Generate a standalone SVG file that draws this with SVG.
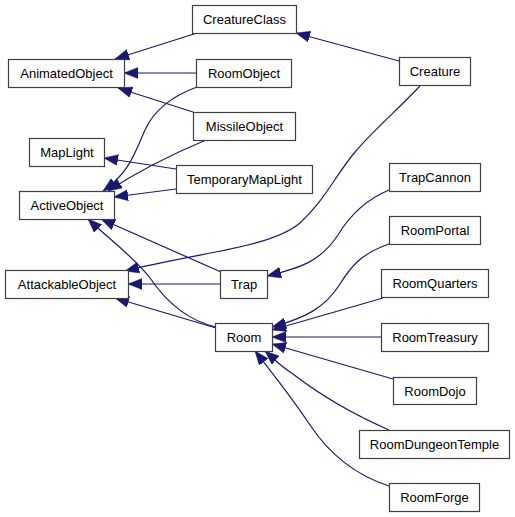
<svg xmlns="http://www.w3.org/2000/svg" width="515" height="517" viewBox="0 0 515 517">
<defs>
<style>
.n rect{fill:#fff;stroke:#404040;stroke-width:1.2}
.n text{font-family:"Liberation Sans",Arial,sans-serif;font-size:13px;fill:#000;text-anchor:middle}
.e path{fill:none;stroke:#191970;stroke-width:1.2;marker-end:url(#ah)}
</style>
<marker id="ah" markerUnits="userSpaceOnUse" markerWidth="15" markerHeight="12" refX="14" refY="5.5" orient="auto">
<path d="M0,0 L14,5.5 L0,11 z" fill="#191970" stroke="#191970" stroke-width="0.5"/>
</marker>
</defs>
<rect width="515" height="517" fill="#fff"/>
<g id="edges" class="e">
<path d="M197,33 L115,59"/>
<path d="M196,73 L124,73"/>
<path d="M196,113 L118,88"/>
<path d="M399,61 L296,33"/>
<path d="M420,86 C395,112 372,132 355,152 C335,176 325,200 300,223 C270,248 200,252 125,271"/>
<path d="M176,169 L104,158"/>
<path d="M176,189 L114,197"/>
<path d="M197,87 C175,95 155,108 145,130 C135,152 130,172 103,191"/>
<path d="M206,140 C170,155 140,170 108,191"/>
<path d="M221,272 L101,219"/>
<path d="M216,327 C185,320 165,300 150,278 C135,258 110,240 88,219"/>
<path d="M221,284 L128,284"/>
<path d="M216,328 L115,298"/>
<path d="M389,190 C365,200 350,215 338,235 C320,262 300,268 267,276"/>
<path d="M389,244 C360,254 350,268 340,284 C325,308 305,318 272,327"/>
<path d="M383,298 L272,330"/>
<path d="M381,337 L272,337"/>
<path d="M393,379 L272,344"/>
<path d="M389,430 C355,415 320,395 293,374 C280,366 273,358 265,351"/>
<path d="M389,486 C355,475 330,455 310,425 C290,395 270,370 255,351"/>
</g>
<g id="CreatureClass" class="n"><rect x="192.5" y="5.5" width="104" height="28"/><text x="244.5" y="24">CreatureClass</text></g>
<g id="AnimatedObject" class="n"><rect x="8.5" y="59.5" width="116" height="28"/><text x="66.5" y="78">AnimatedObject</text></g>
<g id="RoomObject" class="n"><rect x="196.5" y="59.5" width="95" height="28"/><text x="244" y="78">RoomObject</text></g>
<g id="Creature" class="n"><rect x="399.5" y="57.5" width="71" height="28"/><text x="435" y="76">Creature</text></g>
<g id="MissileObject" class="n"><rect x="193.5" y="112.5" width="102" height="28"/><text x="244.5" y="131">MissileObject</text></g>
<g id="MapLight" class="n"><rect x="29.5" y="138.5" width="75" height="28"/><text x="67" y="157">MapLight</text></g>
<g id="TemporaryMapLight" class="n"><rect x="176.5" y="165.5" width="136" height="28"/><text x="244.5" y="184">TemporaryMapLight</text></g>
<g id="TrapCannon" class="n"><rect x="389.5" y="163.5" width="91" height="28"/><text x="435" y="182">TrapCannon</text></g>
<g id="ActiveObject" class="n"><rect x="19.5" y="191.5" width="95" height="28"/><text x="67" y="210">ActiveObject</text></g>
<g id="RoomPortal" class="n"><rect x="389.5" y="216.5" width="91" height="28"/><text x="435" y="235">RoomPortal</text></g>
<g id="AttackableObject" class="n"><rect x="5.5" y="270.5" width="123" height="28"/><text x="67" y="289">AttackableObject</text></g>
<g id="Trap" class="n"><rect x="220.5" y="270.5" width="47" height="28"/><text x="244" y="289">Trap</text></g>
<g id="RoomQuarters" class="n"><rect x="381.5" y="269.5" width="107" height="28"/><text x="435" y="288">RoomQuarters</text></g>
<g id="Room" class="n"><rect x="215.5" y="323.5" width="57" height="28"/><text x="244" y="342">Room</text></g>
<g id="RoomTreasury" class="n"><rect x="381.5" y="323.5" width="107" height="28"/><text x="435" y="342">RoomTreasury</text></g>
<g id="RoomDojo" class="n"><rect x="393.5" y="377.5" width="83" height="27"/><text x="435" y="395.5">RoomDojo</text></g>
<g id="RoomDungeonTemple" class="n"><rect x="359.5" y="430.5" width="150" height="28"/><text x="434.5" y="449">RoomDungeonTemple</text></g>
<g id="RoomForge" class="n"><rect x="389.5" y="483.5" width="90" height="28"/><text x="434.5" y="502">RoomForge</text></g>
</svg>
